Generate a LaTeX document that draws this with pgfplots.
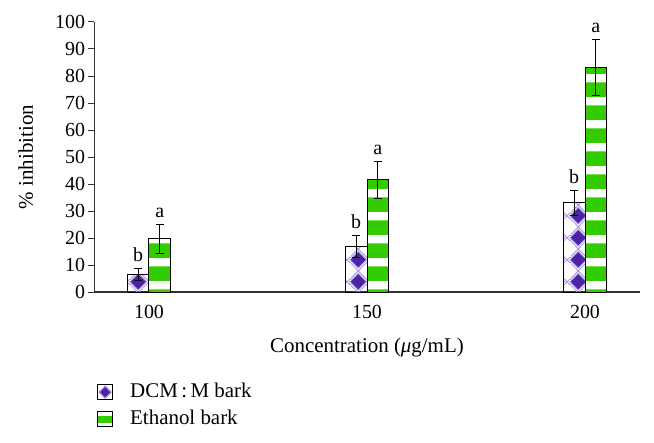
\documentclass[border=0pt]{standalone}
\usepackage{fontspec}
\setmainfont{Liberation Serif}
\usepackage{pgfplots}
\pgfplotsset{compat=1.18}
\usepackage{pgfplotstable}
\usetikzlibrary{patterns,plotmarks}

\definecolor{dcmpurple}{RGB}{75,35,165}
\definecolor{dcmlav}{RGB}{165,145,225}
\definecolor{ethgreen}{RGB}{51,204,0}
\definecolor{axgray}{RGB}{50,50,50}

\def\dcmd#1#2{%
  \pgfpathmoveto{\pgfpoint{#1bp}{#2bp-10.9bp}}%
  \pgfpathlineto{\pgfpoint{#1bp+10.9bp}{#2bp}}%
  \pgfpathlineto{\pgfpoint{#1bp}{#2bp+10.9bp}}%
  \pgfpathlineto{\pgfpoint{#1bp-10.9bp}{#2bp}}%
  \pgfpathclose
  \pgfusepath{stroke}%
  \pgfpathmoveto{\pgfpoint{#1bp}{#2bp-8.3bp}}%
  \pgfpathlineto{\pgfpoint{#1bp+8.3bp}{#2bp}}%
  \pgfpathlineto{\pgfpoint{#1bp}{#2bp+8.3bp}}%
  \pgfpathlineto{\pgfpoint{#1bp-8.3bp}{#2bp}}%
  \pgfpathclose
  \pgfusepath{fill,stroke}%
}

\pgfdeclarepatterninherentlycolored{dcmpat}{\pgfpointorigin}{\pgfpoint{21.8bp}{21.8bp}}{\pgfpoint{21.8bp}{21.8bp}}{%
  \pgfsetlinewidth{0.8bp}%
  \pgfsetstrokecolor{dcmlav}%
  \pgfsetfillcolor{dcmpurple}%
  \dcmd{7.3}{9.3}\dcmd{29.1}{9.3}\dcmd{-14.5}{9.3}%
  \dcmd{7.3}{31.1}\dcmd{29.1}{31.1}\dcmd{-14.5}{31.1}%
  \dcmd{7.3}{-12.5}\dcmd{29.1}{-12.5}\dcmd{-14.5}{-12.5}%
}

\pgfdeclarepatterninherentlycolored{ethpat}{\pgfpointorigin}{\pgfpoint{10bp}{23.3bp}}{\pgfpoint{10bp}{23.3bp}}{%
  \pgfsetfillcolor{ethgreen}%
  \pgfpathrectangle{\pgfpoint{-1bp}{0bp}}{\pgfpoint{12bp}{15bp}}%
  \pgfusepath{fill}%
}

\pgfplotstableread{
c xs v e
100 97.5 6.5 2.3
150 147.5 17.0 4.1
200 197.5 33.0 4.6
}\dcm

\pgfplotstableread{
c xs v e
100 102.5 19.7 5.3
150 152.5 41.5 6.7
200 202.5 83.1 10.5
}\eth

\pgfplotstableread{
c t l
97.5 8.8 b
147.5 21.1 b
197.5 37.6 b
102.5 25.0 a
152.5 48.2 a
202.5 93.6 a
}\lab

\pgfplotsset{
  myerr/.style={draw=none, forget plot,
    error bars/.cd, y dir=both, y explicit,
    error bar style={draw=black, line width=1bp, solid},
    error mark=none},
  mycap/.style={only marks, forget plot, mark=-, mark size=4bp,
    mark options={draw=black, line width=1bp, solid}},
}

\begin{document}
\begin{tikzpicture}
\path[use as bounding box] (-94.5bp,-151bp) rectangle (559.5bp,292bp);
\begin{axis}[
  at={(0,0)}, anchor=south west,
  scale only axis, width=545bp, height=270bp,
  xmin=87.5, xmax=212.5, ymin=0, ymax=100,
  axis x line*=bottom, axis y line*=left,
  axis line style={axgray, line width=1.2bp},
  xtick={100,150,200}, xtick style={draw=none},
  ytick={0,10,...,100}, tick align=outside, major tick length=6bp,
  ytick style={axgray, line width=1bp},
  tick label style={font=\fontsize{20}{24}\selectfont, black},
  /pgf/number format/assume math mode=true,
  xticklabel style={yshift=-4bp},
  ylabel={\% inhibition}, xlabel={Concentration (\textit{μ}g/mL)},
  label style={font=\fontsize{21}{25}\selectfont},
  ylabel style={at={(axis description cs:-0.126,0.5)}, anchor=center},
  xlabel style={at={(axis description cs:0.5,-0.2037)}, anchor=center},
  clip=false,
  legend cell align=left,
  legend style={at={(axis description cs:0.0046,-0.337)}, anchor=north west,
    draw=none, fill=none, inner sep=0pt, font=\fontsize{21}{25}\selectfont,
    row sep=9bp, column sep=17bp,
    nodes={inner sep=0pt, text height=14bp, text depth=4bp}},
]
\addlegendimage{legend image code/.code={%
    \draw[black, line width=1bp, fill=white] (0bp,-7.5bp) rectangle (15bp,7.5bp);
    \filldraw[fill=dcmpurple, draw=dcmlav, line width=1.2bp] (7.5bp,-6bp) -- (13.5bp,0bp) -- (7.5bp,6bp) -- (1.5bp,0bp) -- cycle;}}
\addlegendentry{DCM\,:\,M bark}
\addlegendimage{legend image code/.code={%
    \draw[black, line width=1bp, fill=white] (0bp,-7.5bp) rectangle (15bp,7.5bp);
    \fill[ethgreen] (0.5bp,-3bp) rectangle (14.5bp,3bp);
    \draw[black, line width=1bp] (0bp,-7.5bp) rectangle (15bp,7.5bp);}}
\addlegendentry{Ethanol bark}
\addplot[ybar, forget plot, bar width=21.8bp, bar shift=-10.9bp, draw=black, line width=1bp, pattern=dcmpat]
  table[x=c, y=v] {\dcm};
\addplot[ybar, forget plot, bar width=21.8bp, bar shift=10.9bp, draw=black, line width=1bp, pattern=ethpat]
  table[x=c, y=v] {\eth};
\addplot[myerr] table[x=xs, y=v, y error=e] {\dcm};
\addplot[myerr] table[x=xs, y=v, y error=e] {\eth};
\addplot[mycap] table[x=xs, y expr=\thisrow{v}+\thisrow{e}] {\dcm};
\addplot[mycap] table[x=xs, y expr=\thisrow{v}-\thisrow{e}] {\dcm};
\addplot[mycap] table[x=xs, y expr=\thisrow{v}+\thisrow{e}] {\eth};
\addplot[mycap] table[x=xs, y expr=\thisrow{v}-\thisrow{e}] {\eth};
\addplot[draw=none, mark=none, forget plot, nodes near coords, point meta=explicit symbolic,
  nodes near coords style={anchor=base, yshift=7bp, font=\fontsize{20}{24}\selectfont, text=black}]
  table[x=c, y=t, meta=l] {\lab};
\end{axis}
\end{tikzpicture}
\end{document}
